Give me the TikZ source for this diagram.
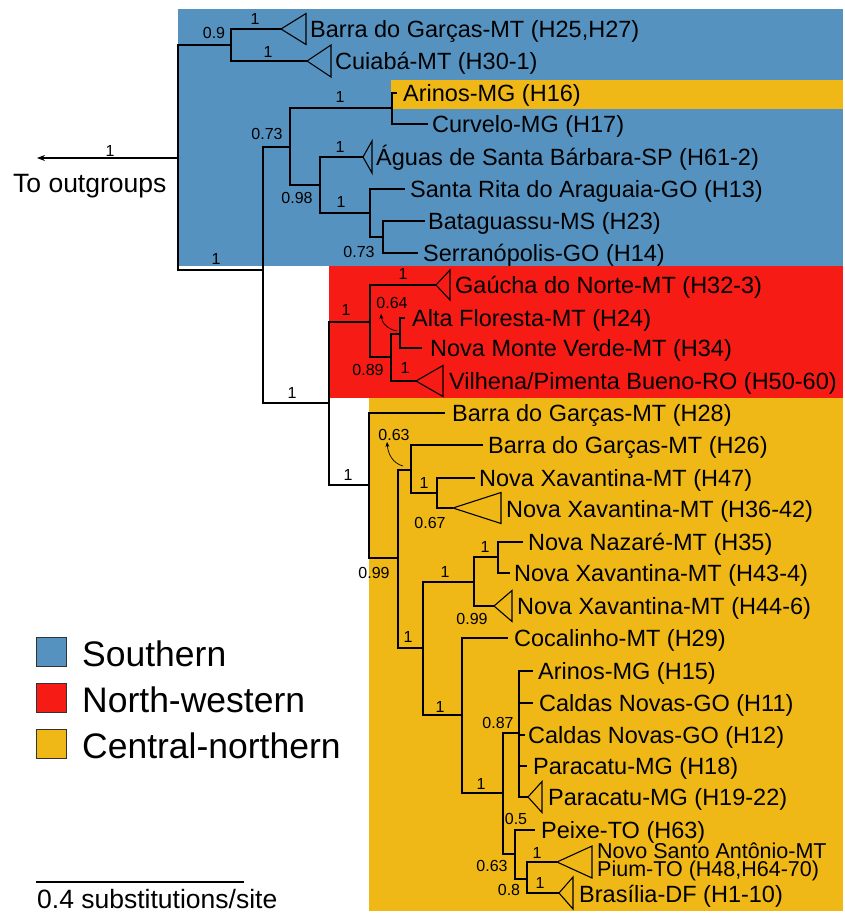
\documentclass[tikz,border=0pt]{standalone}
\usepackage{fontspec}
\setmainfont{Liberation Sans}
\usetikzlibrary{arrows.meta}
\definecolor{cblue}{RGB}{86,146,191}
\definecolor{cred}{RGB}{246,27,20}
\definecolor{cyel}{RGB}{239,184,22}
\begin{document}
\begin{tikzpicture}[x=1pt,y=-1pt,
  br/.style={draw=black, line width=1.1pt},
  tri/.style={draw=black, line width=1.1pt, line join=miter},
  leaf/.style={anchor=base west, inner sep=0pt, font=\fontsize{23.5}{26}\selectfont},
  sup/.style={inner sep=0pt, font=\fontsize{16}{18}\selectfont},
  legsq/.style={draw=black!80, line width=0.6pt},
  legtx/.style={anchor=base west, inner sep=0pt, font=\fontsize{35.5}{40}\selectfont},
  curv/.style={line width=0.7pt, -{Stealth[length=5pt,width=4pt]}}
]
\useasboundingbox (0,0) rectangle (845,913);
% backgrounds
\fill[cblue] (178,9) rectangle (843,266);
\fill[cyel] (391,80) rectangle (843,109);
\fill[cred] (329,266) rectangle (843,398);
\fill[cyel] (369,398) rectangle (843,911);
% coordinates
\coordinate (r) at (178,158);
\coordinate (og) at (37,158);
\coordinate (A) at (231,45);
\coordinate (a1) at (281,29);
\coordinate (a2) at (307,61);
\coordinate (B) at (263,270);
\coordinate (C) at (290,147);
\coordinate (D) at (392,108);
\coordinate (d1) at (397,93);
\coordinate (d2) at (428,124);
\coordinate (E) at (320,185);
\coordinate (e1) at (363,157);
\coordinate (F) at (370,213);
\coordinate (f1) at (405,189);
\coordinate (G) at (383,237);
\coordinate (g1) at (425,221);
\coordinate (g2) at (418,253);
\coordinate (H) at (329,403);
\coordinate (I) at (370,322);
\coordinate (i1) at (436,285);
\coordinate (J) at (391,357);
\coordinate (j1) at (416,381);
\coordinate (K) at (400,334);
\coordinate (k1) at (405,318);
\coordinate (k2) at (422,348);
\coordinate (L) at (369,485);
\coordinate (l1) at (445,413);
\coordinate (M) at (398,558);
\coordinate (N) at (411,470);
\coordinate (n1) at (483,445);
\coordinate (P) at (437,493);
\coordinate (p1) at (475,478);
\coordinate (p2) at (453,508);
\coordinate (O) at (423,648);
\coordinate (Q) at (474,582);
\coordinate (S) at (498,557);
\coordinate (s1) at (523,542);
\coordinate (s2) at (510,573);
\coordinate (q2) at (494,606);
\coordinate (R) at (462,715);
\coordinate (r1) at (508,638);
\coordinate (T) at (503,793);
\coordinate (U) at (519,733);
\coordinate (u1) at (533,671);
\coordinate (u2) at (533,703);
\coordinate (u3) at (525,735);
\coordinate (u4) at (527,766);
\coordinate (u5) at (528,797);
\coordinate (V) at (515,854);
\coordinate (v1) at (535,830);
\coordinate (W) at (527,879);
\coordinate (w1) at (557,862);
\coordinate (w2) at (559,893);
% branches
\draw[br, -{Stealth[length=8pt,width=6pt]}] (r) -- (og);
\draw[br] (r) |- (A); \draw[br] (r) |- (B);
\draw[br] (A) |- (a1); \draw[br] (A) |- (a2);
\draw[br] (B) |- (C); \draw[br] (B) |- (H);
\draw[br] (C) |- (D); \draw[br] (C) |- (E);
\draw[br] (D) |- (d1); \draw[br] (D) |- (d2);
\draw[br] (E) |- (e1); \draw[br] (E) |- (F);
\draw[br] (F) |- (f1); \draw[br] (F) |- (G);
\draw[br] (G) |- (g1); \draw[br] (G) |- (g2);
\draw[br] (H) |- (I); \draw[br] (H) |- (L);
\draw[br] (I) |- (i1); \draw[br] (I) |- (J);
\draw[br] (J) |- (K); \draw[br] (J) |- (j1);
\draw[br] (K) |- (k1); \draw[br] (K) |- (k2);
\draw[br] (L) |- (l1); \draw[br] (L) |- (M);
\draw[br] (M) |- (N); \draw[br] (M) |- (O);
\draw[br] (N) |- (n1); \draw[br] (N) |- (P);
\draw[br] (P) |- (p1); \draw[br] (P) |- (p2);
\draw[br] (O) |- (Q); \draw[br] (O) |- (R);
\draw[br] (Q) |- (S); \draw[br] (Q) |- (q2);
\draw[br] (S) |- (s1); \draw[br] (S) |- (s2);
\draw[br] (R) |- (r1); \draw[br] (R) |- (T);
\draw[br] (T) |- (U); \draw[br] (T) |- (V);
\draw[br] (U) |- (u1); \draw[br] (U) |- (u2); \draw[br] (U) |- (u3);
\draw[br] (U) |- (u4); \draw[br] (U) |- (u5);
\draw[br] (V) |- (v1); \draw[br] (V) |- (W);
\draw[br] (W) |- (w1); \draw[br] (W) |- (w2);
% collapsed clades
\draw[tri] (a1) -- ++(25,-15.5) -- ++(0,31) -- cycle;
\draw[tri] (a2) -- ++(24,-16) -- ++(0,32) -- cycle;
\draw[tri] (e1) -- ++(9,-16) -- ++(0,32) -- cycle;
\draw[tri] (i1) -- ++(14,-15) -- ++(0,30) -- cycle;
\draw[tri] (j1) -- ++(27,-15.5) -- ++(0,31) -- cycle;
\draw[tri] (p2) -- ++(48,-15.5) -- ++(0,31) -- cycle;
\draw[tri] (q2) -- ++(18,-15.5) -- ++(0,31) -- cycle;
\draw[tri] (u5) -- ++(14,-15.5) -- ++(0,31) -- cycle;
\draw[tri] (w1) -- ++(35,-16) -- ++(0,32) -- cycle;
\draw[tri] (w2) -- ++(14,-16) -- ++(0,32) -- cycle;
% leaf labels
\node[leaf] (t1) at (310,37.4) {Barra do Garças-MT (H25,H27)};
\node[leaf] (t2) at (335,69.4) {Cuiabá-MT (H30-1)};
\node[leaf] (t3) at (403,101.4) {Arinos-MG (H16)};
\node[leaf] (t4) at (432,132.4) {Curvelo-MG (H17)};
\node[leaf] (t5) at (376,165.4) {Águas de Santa Bárbara-SP (H61-2)};
\node[leaf] (t6) at (410,197.4) {Santa Rita do Araguaia-GO (H13)};
\node[leaf] (t7) at (428,229.4) {Bataguassu-MS (H23)};
\node[leaf] (t8) at (423,261.4) {Serranópolis-GO (H14)};
\node[leaf] (t9) at (455,293.4) {Gaúcha do Norte-MT (H32-3)};
\node[leaf] (t10) at (412,326.4) {Alta Floresta-MT (H24)};
\node[leaf] (t11) at (430,356.4) {Nova Monte Verde-MT (H34)};
\node[leaf] (t12) at (449,389.4) {Vilhena/Pimenta Bueno-RO (H50-60)};
\node[leaf] (t13) at (452,421.4) {Barra do Garças-MT (H28)};
\node[leaf] (t14) at (488,453.4) {Barra do Garças-MT (H26)};
\node[leaf] (t15) at (479,486.4) {Nova Xavantina-MT (H47)};
\node[leaf] (t16) at (506,517.4) {Nova Xavantina-MT (H36-42)};
\node[leaf] (t17) at (528,550.4) {Nova Nazaré-MT (H35)};
\node[leaf] (t18) at (514,581.4) {Nova Xavantina-MT (H43-4)};
\node[leaf] (t19) at (517,614.4) {Nova Xavantina-MT (H44-6)};
\node[leaf] (t20) at (514,646.4) {Cocalinho-MT (H29)};
\node[leaf] (t21) at (538,679.4) {Arinos-MG (H15)};
\node[leaf] (t22) at (539,711.4) {Caldas Novas-GO (H11)};
\node[leaf] (t23) at (528,743.4) {Caldas Novas-GO (H12)};
\node[leaf] (t24) at (533,774.4) {Paracatu-MG (H18)};
\node[leaf] (t25) at (548,805.4) {Paracatu-MG (H19-22)};
\node[leaf] (t26) at (541,838.4) {Peixe-TO (H63)};
\node[anchor=west, inner sep=0pt, align=left, font=\fontsize{21.5}{18}\selectfont] (t27) at (597,861.5) {Novo Santo Antônio-MT\\Pium-TO (H48,H64-70)};
\node[leaf] (t29) at (579,902.4) {Brasília-DF (H1-10)};
% support values
\node[sup] (s01) at (110,151) {1};
\node[sup] (s02) at (214,33) {0.9};
\node[sup] (s03) at (255,19) {1};
\node[sup] (s04) at (268,52) {1};
\node[sup] (s05) at (340,97) {1};
\node[sup] (s06) at (267,134) {0.73};
\node[sup] (s07) at (340,147) {1};
\node[sup] (s08) at (297,198) {0.98};
\node[sup] (s09) at (341,202) {1};
\node[sup] (s10) at (359,252) {0.73};
\node[sup] (s11) at (216,259) {1};
\node[sup] (s12) at (346,310) {1};
\node[sup] (s13) at (403,274) {1};
\node[sup] (s14) at (392,303) {0.64};
\node[sup] (s15) at (368,370) {0.89};
\node[sup] (s16) at (405,368) {1};
\node[sup] (s17) at (292,393) {1};
\node[sup] (s18) at (348,475) {1};
\node[sup] (s19) at (394,435) {0.63};
\node[sup] (s20) at (424,483) {1};
\node[sup] (s21) at (430,523) {0.67};
\node[sup] (s22) at (374,573) {0.99};
\node[sup] (s23) at (408,637) {1};
\node[sup] (s24) at (445,572) {1};
\node[sup] (s25) at (485,547) {1};
\node[sup] (s26) at (472,619) {0.99};
\node[sup] (s27) at (440,707) {1};
\node[sup] (s28) at (481,784) {1};
\node[sup] (s29) at (498,723) {0.87};
\node[sup] (s30) at (516,819) {0.5};
\node[sup] (s31) at (492,866) {0.63};
\node[sup] (s32) at (509,890) {0.8};
\node[sup] (s33) at (537,853) {1};
\node[sup] (s34) at (540,883) {1};
% curved pointers
\coordinate (c1a) at (397,331);
\coordinate (c1b) at (381,314);
\coordinate (c2a) at (403,466);
\coordinate (c2b) at (387,442);
\draw[curv] (c1a) to[out=170,in=-85] (c1b);
\draw[curv] (c2a) to[out=165,in=-85] (c2b);
% outgroup label
\node[anchor=base west, inner sep=0pt, font=\fontsize{26.5}{28}\selectfont] (og-t) at (13,192) {To outgroups};
% legend
\draw[legsq, fill=cblue] (36,637) rectangle (66,666);
\draw[legsq, fill=cred] (36,683) rectangle (66,712);
\draw[legsq, fill=cyel] (36,729) rectangle (66,758);
\node[legtx] (lg1) at (82,666) {Southern};
\node[legtx] (lg2) at (82,712) {North-western};
\node[legtx] (lg3) at (82,758) {Central-northern};
% scale bar
\coordinate (sb1) at (36,882);
\coordinate (sb2) at (244,882);
\draw[line width=1.1pt] (sb1) -- (sb2);
\node[anchor=base west, inner sep=0pt, font=\fontsize{26.5}{28}\selectfont] (sbt) at (37,908) {0.4 substitutions/site};
\end{tikzpicture}
\end{document}
